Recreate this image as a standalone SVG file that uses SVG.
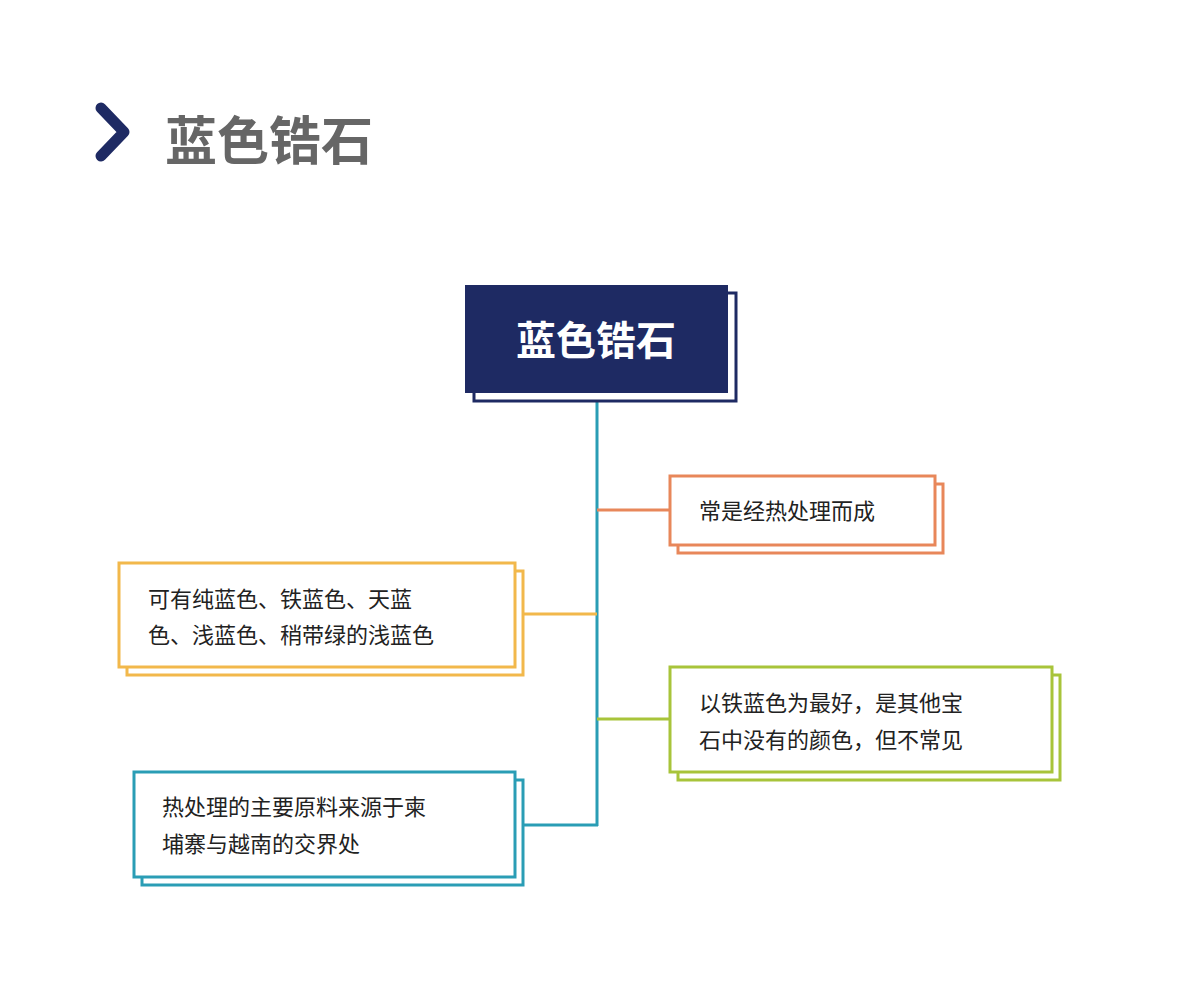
<svg xmlns="http://www.w3.org/2000/svg" width="1179" height="1003" viewBox="0 0 1179 1003">
<style>
text{font-family:"Noto Sans CJK SC","Noto Sans",sans-serif}
.t{font-size:22px;fill:#222}
.b{fill:#fff;stroke-width:3}
.c{fill:none;stroke-width:3}
</style>
<rect width="1179" height="1003" fill="#fff"/>
<path d="M101,108 L124,132 L101,156" fill="none" stroke="#1E2A63" stroke-width="11" stroke-linecap="round" stroke-linejoin="round"/>
<text x="165" y="160" font-size="52" font-weight="bold" fill="#666">蓝色锆石</text>
<g id="connectors">
<line class="c" x1="597" y1="393" x2="597" y2="826" stroke="#2A9DB5"/>
<line class="c" x1="597" y1="510" x2="670" y2="510" stroke="#E8875A"/>
<line class="c" x1="515" y1="614" x2="597" y2="614" stroke="#F2B84B"/>
<line class="c" x1="597" y1="719" x2="670" y2="719" stroke="#A8C43A"/>
<line class="c" x1="515" y1="825" x2="598" y2="825" stroke="#2A9DB5"/>
</g>
<g id="root">
<rect x="474" y="293" width="262" height="108" fill="#fff" stroke="#1E2A63" stroke-width="3"/>
<rect x="465" y="285" width="263" height="108" fill="#1E2A63"/>
<text x="596" y="355" font-size="40" font-weight="bold" fill="#fff" text-anchor="middle">蓝色锆石</text>
</g>
<g id="n1">
<rect class="b" x="678" y="484" width="265" height="69" stroke="#E8875A"/>
<rect class="b" x="670" y="476" width="265" height="69" stroke="#E8875A"/>
<text class="t" x="699" y="519">常是经热处理而成</text>
</g>
<g id="n2">
<rect class="b" x="127" y="571" width="396" height="104" stroke="#F2B84B"/>
<rect class="b" x="119" y="563" width="396" height="104" stroke="#F2B84B"/>
<text class="t" x="148" y="607">可有纯蓝色、铁蓝色、天蓝</text>
<text class="t" x="148" y="643">色、浅蓝色、稍带绿的浅蓝色</text>
</g>
<g id="n3">
<rect class="b" x="678" y="675" width="382" height="105" stroke="#A8C43A"/>
<rect class="b" x="670" y="667" width="382" height="105" stroke="#A8C43A"/>
<text class="t" x="699" y="711">以铁蓝色为最好，是其他宝</text>
<text class="t" x="699" y="748">石中没有的颜色，但不常见</text>
</g>
<g id="n4">
<rect class="b" x="142" y="780" width="381" height="105" stroke="#2A9DB5"/>
<rect class="b" x="134" y="772" width="381" height="105" stroke="#2A9DB5"/>
<text class="t" x="162" y="815">热处理的主要原料来源于柬</text>
<text class="t" x="162" y="852">埔寨与越南的交界处</text>
</g>
</svg>
